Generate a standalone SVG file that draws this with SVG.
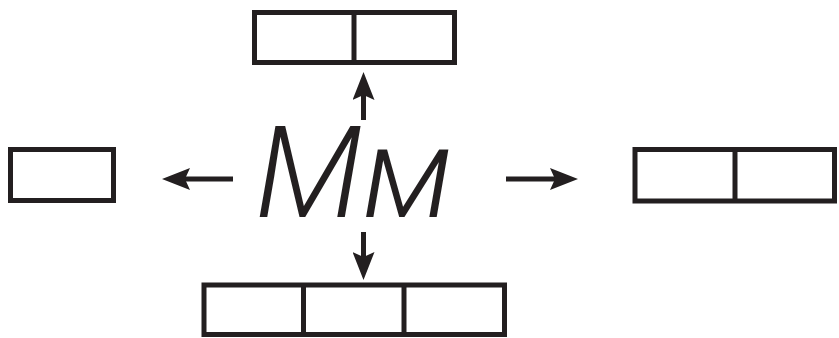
<svg xmlns="http://www.w3.org/2000/svg" width="839" height="338" viewBox="0 0 839 338">
<style>
.box{fill:none;stroke:#231f20;stroke-width:5}
.conn{stroke:#231f20;stroke-width:5;fill:none}
.lbl{font-family:Roboto,"Open Sans","DejaVu Sans",sans-serif;font-weight:300;font-style:italic;font-size:128px;fill:#231f20}
</style>
<defs>
<marker id="ah" viewBox="0 0 28 22" refX="5" refY="11" markerWidth="28" markerHeight="22" markerUnits="userSpaceOnUse" orient="auto">
<path d="M0,0 L28,11 L0,22 L5,11 Z" fill="#231f20"/>
</marker>
</defs>
<rect width="839" height="338" fill="#fff"/>
<g id="top">
<rect class="box" x="254.5" y="12.5" width="200" height="50"/>
<line class="box" x1="354" y1="12.5" x2="354" y2="62.5"/>
</g>
<g id="left">
<rect class="box" x="10.5" y="149.5" width="103" height="51"/>
</g>
<g id="right">
<rect class="box" x="635" y="149.5" width="199.5" height="51.5"/>
<line class="box" x1="735" y1="149.5" x2="735" y2="201"/>
</g>
<g id="bottom">
<rect class="box" x="204" y="285" width="300.5" height="49.5"/>
<line class="box" x1="303.5" y1="285" x2="303.5" y2="334.5"/>
<line class="box" x1="404" y1="285" x2="404" y2="334.5"/>
</g>
<g id="center">
<text class="lbl" x="354" y="217" text-anchor="middle">Мм</text>
</g>
<g id="connectors">
<line class="conn" x1="363.5" y1="120" x2="363.5" y2="95" marker-end="url(#ah)"/>
<line class="conn" x1="233" y1="179" x2="185" y2="179" marker-end="url(#ah)"/>
<line class="conn" x1="506" y1="179" x2="555" y2="179" marker-end="url(#ah)"/>
<line class="conn" x1="363.5" y1="232" x2="363.5" y2="257" marker-end="url(#ah)"/>
</g>
</svg>
